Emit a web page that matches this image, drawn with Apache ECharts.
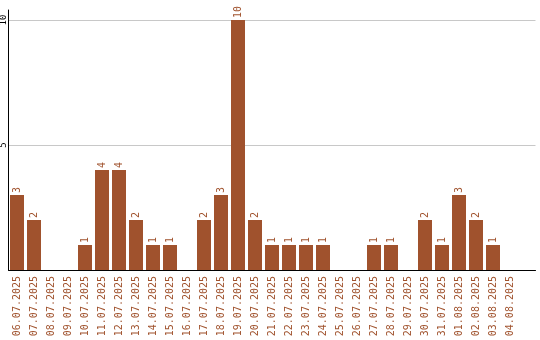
<!DOCTYPE html>
<html><head><meta charset="utf-8">
<script src="https://cdn.jsdelivr.net/npm/echarts@6/dist/echarts.min.js"></script>
<style>html,body{margin:0;padding:0;background:#fff}#c{width:540px;height:340px}</style>
</head><body><div id="c"></div>
<script>
var categories = ["06.07.2025","07.07.2025","08.07.2025","09.07.2025","10.07.2025","11.07.2025","12.07.2025","13.07.2025","14.07.2025","15.07.2025","16.07.2025","17.07.2025","18.07.2025","19.07.2025","20.07.2025","21.07.2025","22.07.2025","23.07.2025","24.07.2025","25.07.2025","26.07.2025","27.07.2025","28.07.2025","29.07.2025","30.07.2025","31.07.2025","01.08.2025","02.08.2025","03.08.2025","04.08.2025"];
var values = [3,2,0,0,1,4,4,2,1,1,0,2,3,10,2,1,1,1,1,0,0,1,1,0,2,1,3,2,1,0];
var yTicks = [0,5,10];
var brown = '#a0522d';
var font = 'DejaVu Sans Mono';
var chart = echarts.init(document.getElementById('c'), null, {renderer:'canvas'});
chart.setOption({
  animation:false,
  backgroundColor:'#fff',
  grid:{left:8.5, top:10, width:527, bottom:70, containLabel:false, outerBoundsMode:'none'},
  xAxis:{
    type:'category', data:categories, max:categories.length,
    boundaryGap:true,
    axisLine:{lineStyle:{color:'#000', width:1}},
    axisTick:{show:false},
    axisLabel:{rotate:90, interval:0, color:brown, fontFamily:font, fontSize:10, margin:6}
  },
  yAxis:{
    type:'value', min:0, max:10.4, interval:5,
    axisLine:{show:true, lineStyle:{color:'#000', width:1}},
    axisTick:{show:false},
    splitLine:{show:true, showMaxLine:false, lineStyle:{color:'#c8c8c8', width:1}},
    axisLabel:{rotate:90, color:'#000', fontFamily:font, fontSize:9, margin:0, showMaxLabel:false, showMinLabel:false,
      formatter:function(v){return yTicks.indexOf(v)>=0 && v!==0 ? String(v) : '';}}
  },
  series:[{
    type:'bar', data:values, barWidth:14,
    itemStyle:{color:brown},
    label:{show:true, position:'top', rotate:90, align:'left', verticalAlign:'middle', distance:2,
      color:brown, fontFamily:font, fontSize:10,
      formatter:function(p){return p.value>0?String(p.value):'';}}
  }]
});
</script></body></html>
